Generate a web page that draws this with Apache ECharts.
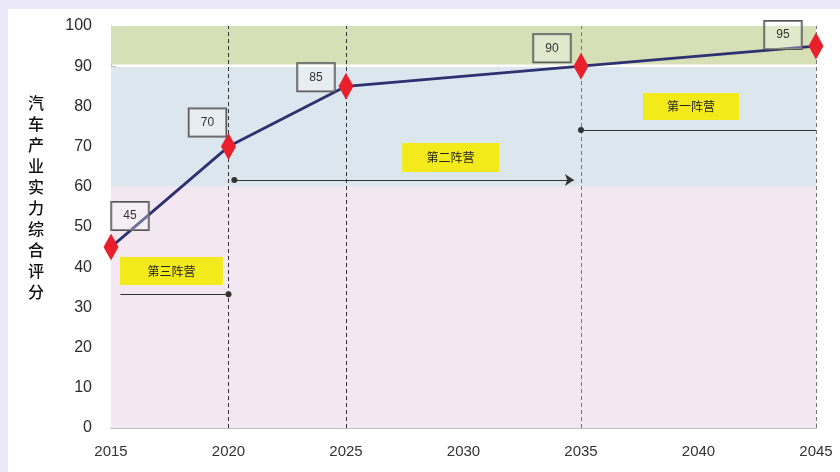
<!DOCTYPE html>
<html>
<head>
<meta charset="utf-8">
<script src="https://cdn.jsdelivr.net/npm/echarts@6/dist/echarts.min.js"></script>
<style>
  html, body { margin: 0; padding: 0; background: #ebe8fa; }
  #chart { position: absolute; left: 8px; top: 9px; width: 832px; height: 463px; background: #ffffff; }
</style>
</head>
<body>
<div id="chart"></div>
<script>
// Scores by year
const years = [2015, 2020, 2025, 2035, 2045];
const scores = [45, 70, 85, 90, 95];
// where each score box sits relative to its point (px)
const labelOffsets = [[19, -31], [-21, -24], [-30, -9], [-29, -18], [-33, -11]];

// Tier bands on the score axis
const bandRanges = [[90.4, 100], [60, 89.8], [0, 60]];
const bandColors = ['#d6dfb5', '#dce6ee', '#f3e7f1'];

// Stage boundaries
const stageYears = [2020, 2025, 2035, 2045];
const stageLineColors = ['#333', '#333', '#777', '#777'];

// Camp tags: name, centre [year, score], box size
const campNames = ['第三阵营', '第二阵营', '第一阵营'];
const campCentres = [[2017.57, 39.05], [2029.45, 67.3], [2039.68, 80.0]];
const campSizes = [[103, 28], [97, 29], [96, 27]];

// Camp spans: [fromYear, toYear, score, startSymbol, endSymbol]
const campSpans = [
  [2015.4, 2020, 33.3, 'none', 'circle'],
  [2020.25, 2034.7, 61.7, 'circle', 'arrow'],
  [2035, 2045, 74.1, 'circle', 'none']
];

const yTitle = '汽车产业实力综合评分';

const chart = echarts.init(document.getElementById('chart'));

const lineData = years.map((y, i) => ({
  value: [y, scores[i]],
  label: { offset: labelOffsets[i] }
}));

const bandData = bandRanges.map((r, i) => [
  { yAxis: r[0], itemStyle: { color: bandColors[i] } },
  { yAxis: r[1] }
]);

const stageData = stageYears.map((y, i) => ({
  xAxis: y,
  lineStyle: { color: stageLineColors[i], type: [4, 3], width: 1 }
}));

const spanData = campSpans.map(s => [
  { coord: [s[0], s[2]], symbol: s[3], symbolSize: s[3] === 'arrow' ? 9 : 6 },
  { coord: [s[1], s[2]], symbol: s[4], symbolSize: s[4] === 'arrow' ? 9 : 6 }
]);

const campData = campNames.map((n, i) => ({
  name: n,
  coord: campCentres[i],
  symbolSize: campSizes[i]
}));

chart.setOption({
  animation: false,
  textStyle: { fontFamily: 'Liberation Sans, Arial, sans-serif' },
  grid: { left: 103, top: 17, right: 24, bottom: 44 },
  xAxis: {
    type: 'value', min: 2015, max: 2045, interval: 5,
    axisLine: { lineStyle: { color: '#aaa', width: 1.5 } },
    axisTick: { inside: true, length: 5, lineStyle: { color: '#bbb' } },
    splitLine: { show: false },
    axisLabel: { color: '#333', fontSize: 15, margin: 16, formatter: v => String(v),
      showMinLabel: true, showMaxLabel: true }
  },
  yAxis: {
    type: 'value', min: 0, max: 100, interval: 10,
    axisLine: { show: true, lineStyle: { color: '#bbb', width: 1 } },
    axisTick: { show: true, inside: true, length: 5, lineStyle: { color: '#bbb' } },
    splitLine: { show: false },
    axisLabel: { color: '#2a2a2a', fontSize: 16, margin: 19 }
  },
  graphic: [{
    type: 'text',
    left: 20, top: 83,
    style: {
      text: yTitle.split('').join('\n'),
      fontSize: 16, lineHeight: 21,
      fontFamily: 'Noto Sans CJK SC',
      fontWeight: 500,
      fill: '#111',
      align: 'center'
    }
  }],
  series: [
    {
      type: 'line',
      data: lineData,
      z: 5,
      symbol: 'diamond',
      symbolSize: [15, 27],
      itemStyle: { color: '#e8202c' },
      lineStyle: { color: '#2d3172', width: 2.8 },
      label: {
        show: true,
        position: 'inside',
        formatter: p => String(p.value[1]),
        color: '#333', fontSize: 12,
        backgroundColor: 'rgba(255,255,255,0.3)',
        borderColor: '#555', borderWidth: 1,
        padding: [7, 12], lineHeight: 14
      },
      markArea: { silent: true, data: bandData, z: 1 },
      markLine: {
        silent: true, symbol: 'none',
        label: { show: false },
        data: stageData
      }
    },
    {
      type: 'line',
      data: [],
      markLine: {
        silent: true,
        label: { show: false },
        lineStyle: { color: '#333', type: 'solid', width: 1 },
        itemStyle: { color: '#333' },
        data: spanData
      },
      markPoint: {
        silent: true,
        symbol: 'rect',
        itemStyle: { color: '#f3ea1b' },
        label: {
          show: true, formatter: p => p.name,
          color: '#222', fontSize: 12,
          fontFamily: 'Noto Sans CJK SC'
        },
        data: campData
      }
    }
  ]
});
</script>
</body>
</html>
